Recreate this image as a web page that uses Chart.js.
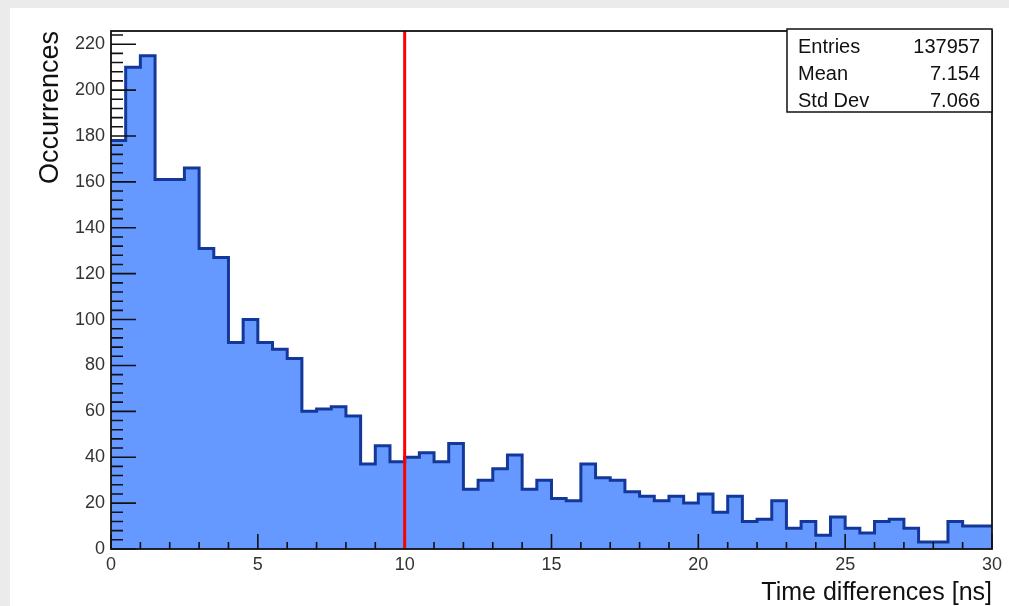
<!DOCTYPE html>
<html>
<head>
<meta charset="utf-8">
<script src="https://cdn.jsdelivr.net/npm/chart.js@4/dist/chart.umd.min.js"></script>
<style>
  html, body { margin: 0; padding: 0; background: #ebebeb; overflow: hidden; }
  #panel { position: absolute; left: 10px; top: 8px; width: 999px; height: 598px; background: #fff; }
</style>
</head>
<body>
<div id="panel"><canvas id="hist" width="999" height="598"></canvas></div>
<script>
// histogram: 60 bins of 0.5 ns between 0 and 30
const xMin = 0
const xMax = 30
const binWidth = 0.5
const counts = [178,210,215,161,161,166,131,127,90,100,
                90,87,83,60,61,62,58,37,45,38,
                40,42,38,46,26,30,35,41,26,30,
                22,21,37,31,30,25,23,21,23,20,
                24,16,23,12,13,21,9,12,6,14,
                9,7,12,13,9,3,3,12,10,10]
const yMax = 225.75
const cutValue = 10   // red line

const xMajorStep = 5, xMinorStep = 1
const yMajorStep = 20, yMinorStep = 4

const statLabels = ['Entries','Mean','Std Dev']
const statValues = ['137957','7.154','7.066']

const xTitle = 'Time differences [ns]'
const yTitle = 'Occurrences'

const fontFam = "'Liberation Sans', Arial, sans-serif"

// step points at the left edge of each bin, plus closing point at xMax
const histPoints = counts.map((c,i) => ({x: xMin + i*binWidth, y: c}))
histPoints.push({x: xMax, y: counts[counts.length-1]})

function drawTicks(chart){
    const {ctx, chartArea: a, scales: {x, y}} = chart
    ctx.save()
    ctx.strokeStyle = '#111'
    ctx.lineWidth = 1.6
    ctx.beginPath()
    for (let v = 0; v <= yMax; v += yMinorStep){
        const py = y.getPixelForValue(v)
        const len = v % yMajorStep === 0 ? 25 : 12
        ctx.moveTo(a.left, py)
        ctx.lineTo(a.left + len, py)
    }
    for (let v = xMin; v <= xMax; v += xMinorStep){
        const px = x.getPixelForValue(v)
        const len = v % xMajorStep === 0 ? 15 : 7
        ctx.moveTo(px, a.bottom)
        ctx.lineTo(px, a.bottom - len)
    }
    ctx.stroke()
    ctx.restore()
}

const rootStyle = {
    id: 'rootStyle',
    afterDatasetDraw(chart, args){
        if (args.index === 0) drawTicks(chart)
    },
    afterDraw(chart){
        const {ctx, chartArea: a} = chart
        ctx.save()
        // frame
        ctx.strokeStyle = '#111'
        ctx.lineWidth = 1.8
        ctx.strokeRect(a.left, a.top, a.right - a.left, a.bottom - a.top)
        // stats box
        const bw = 205, bh = 83
        const bx = a.right - bw, by = a.top - 2
        ctx.fillStyle = '#fff'
        ctx.fillRect(bx, by, bw, bh)
        ctx.lineWidth = 1.5
        ctx.strokeRect(bx, by, bw, bh)
        ctx.fillStyle = '#111'
        ctx.font = '20px ' + fontFam
        ctx.textBaseline = 'alphabetic'
        for (let i = 0; i < statLabels.length; i++){
            const ty = by + 24 + i*27
            ctx.textAlign = 'left'
            ctx.fillText(statLabels[i], bx + 11, ty)
            ctx.textAlign = 'right'
            ctx.fillText(statValues[i], bx + bw - 12, ty)
        }
        ctx.restore()
    }
}

const chart = new Chart(document.getElementById('hist'), {
    type: 'line',
    data: {
        datasets: [
            {
                label: 'hist',
                data: histPoints,
                stepped: 'before',
                fill: 'origin',
                backgroundColor: '#6699ff',
                borderColor: '#14389a',
                borderWidth: 3,
                pointRadius: 0,
                order: 2
            },
            {
                label: 'cut',
                data: [{x: cutValue, y: 0}, {x: cutValue, y: yMax}],
                borderColor: '#ff0000',
                borderWidth: 3,
                pointRadius: 0,
                fill: false,
                order: 1
            }
        ]
    },
    options: {
        responsive: false,
        animation: false,
        events: [],
        layout: { padding: { top: 23, right: 17, left: 0, bottom: 0 } },
        plugins: {
            legend: { display: false },
            tooltip: { enabled: false }
        },
        scales: {
            x: {
                type: 'linear',
                min: xMin,
                max: xMax,
                grid: { display: false, drawTicks: false },
                border: { display: false },
                ticks: {
                    stepSize: xMajorStep,
                    includeBounds: false,
                    maxRotation: 0,
                    autoSkip: false,
                    padding: 5,
                    color: '#333',
                    font: { family: fontFam, size: 18 }
                },
                title: {
                    display: true,
                    text: xTitle,
                    align: 'end',
                    color: '#111',
                    font: { family: fontFam, size: 25, lineHeight: 1 },
                    padding: { top: 0, bottom: 0 }
                },
                afterFit(scale){ scale.height = 57 }
            },
            y: {
                type: 'linear',
                min: 0,
                max: yMax,
                grid: { display: false, drawTicks: false },
                border: { display: false },
                ticks: {
                    stepSize: yMajorStep,
                    includeBounds: false,
                    autoSkip: false,
                    padding: 6,
                    color: '#333',
                    font: { family: fontFam, size: 18 }
                },
                title: {
                    display: true,
                    text: yTitle,
                    align: 'end',
                    color: '#111',
                    font: { family: fontFam, size: 27, lineHeight: 1 },
                    padding: { top: 27, bottom: 0 }
                },
                afterFit(scale){ scale.width = 101 }
            }
        }
    },
    plugins: [rootStyle]
})
</script>
</body>
</html>
